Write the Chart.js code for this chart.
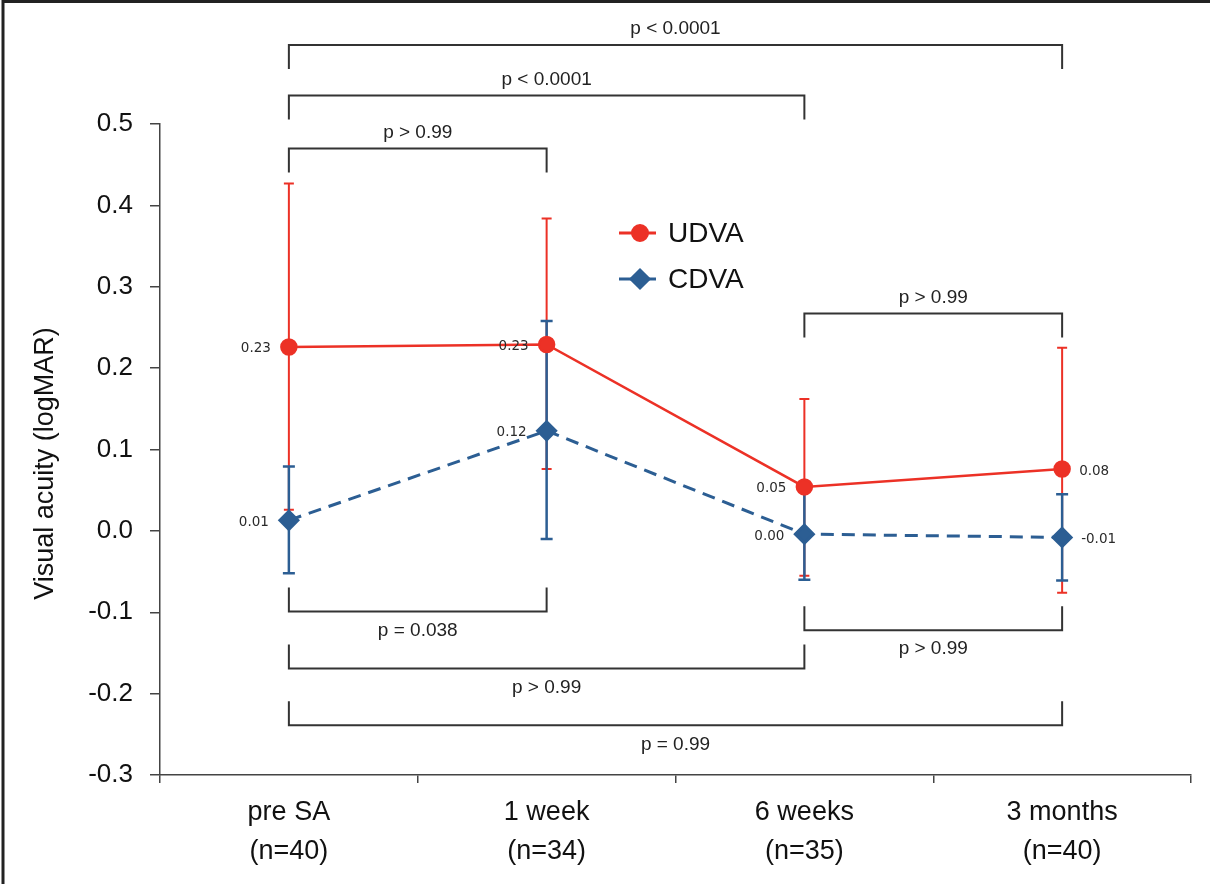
<!DOCTYPE html>
<html>
<head>
<meta charset="utf-8">
<title>Visual acuity</title>
<script src="https://cdn.jsdelivr.net/npm/chart.js@4.4.1/dist/chart.umd.min.js"></script>
<style>
  html, body { margin: 0; padding: 0; background: #fff; }
  #wrap { width: 1210px; height: 884px; }
</style>
</head>
<body>
<div id="wrap"><canvas id="grafico" width="1210" height="884"></canvas></div>
<script>
// categorias e valores
const categories = [['pre SA', '(n=40)'], ['1 week', '(n=34)'], ['6 weeks', '(n=35)'], ['3 months', '(n=40)']];
const yMin = -0.3;
const yMax = 0.5;
const yStep = 0.1;

const udvaMean = [0.226, 0.229, 0.054, 0.076];
const udvaUpper = [0.427, 0.384, 0.162, 0.225];
const udvaLower = [0.026, 0.076, -0.055, -0.076];

const cdvaMean = [0.013, 0.123, -0.004, -0.008];
const cdvaUpper = [0.079, 0.258, 0.052, 0.045];
const cdvaLower = [-0.052, -0.010, -0.060, -0.061];

// comparações (índices das categorias, nível da barra em logMAR)
const comparisons = [
  { from: 0, to: 3, level: 0.597, text: 'p < 0.0001', side: 'top' },
  { from: 0, to: 2, level: 0.535, text: 'p < 0.0001', side: 'top' },
  { from: 0, to: 1, level: 0.470, text: 'p > 0.99', side: 'top' },
  { from: 2, to: 3, level: 0.267, text: 'p > 0.99', side: 'top' },
  { from: 0, to: 1, level: -0.099, text: 'p = 0.038', side: 'bottom' },
  { from: 2, to: 3, level: -0.122, text: 'p > 0.99', side: 'bottom' },
  { from: 0, to: 2, level: -0.169, text: 'p > 0.99', side: 'bottom' },
  { from: 0, to: 3, level: -0.239, text: 'p = 0.99', side: 'bottom' }
];

const yTitle = 'Visual acuity (logMAR)';

const red = '#EC3126';
const blue = '#2C5E93';
const ink = '#222';

function fmt(v) {
  if (Math.abs(v) < 0.005) return '0.00';
  return v.toFixed(2);
}

const errorBars = {
  id: 'errorBars',
  beforeDatasetsDraw(chart) {
    const ctx = chart.ctx;
    const sx = chart.scales.x;
    const sy = chart.scales.y;
    const sets = [
      { up: udvaUpper, lo: udvaLower, color: red, w: 2, cap: 5 },
      { up: cdvaUpper, lo: cdvaLower, color: blue, w: 2.5, cap: 6 }
    ];
    ctx.save();
    sets.forEach(s => {
      ctx.strokeStyle = s.color;
      ctx.lineWidth = s.w;
      for (let i = 0; i < categories.length; i++) {
        const x = sx.getPixelForValue(i);
        const y1 = sy.getPixelForValue(s.up[i]);
        const y2 = sy.getPixelForValue(s.lo[i]);
        ctx.beginPath();
        ctx.moveTo(x, y1); ctx.lineTo(x, y2);
        ctx.moveTo(x - s.cap, y1); ctx.lineTo(x + s.cap, y1);
        ctx.moveTo(x - s.cap, y2); ctx.lineTo(x + s.cap, y2);
        ctx.stroke();
      }
    });
    ctx.restore();
  },
  afterDatasetsDraw(chart) {
    const ctx = chart.ctx;
    ctx.save();
    ctx.font = '13.5px "DejaVu Sans"';
    ctx.fillStyle = '#2a2a2a';
    ctx.textBaseline = 'middle';
    chart.data.datasets.forEach((ds, d) => {
      const meta = chart.getDatasetMeta(d);
      meta.data.forEach((pt, i) => {
        const last = i === categories.length - 1;
        ctx.textAlign = last ? 'left' : 'right';
        const off = d === 0 ? 18 : 20;
        ctx.fillText(fmt(ds.data[i]), last ? pt.x + off - 1 : pt.x - off, pt.y + 2);
      });
    });
    ctx.restore();
  }
};

const extras = {
  id: 'extras',
  beforeDraw(chart) {
    const ctx = chart.ctx;
    ctx.save();
    ctx.fillStyle = '#fff';
    ctx.fillRect(0, 0, chart.width, chart.height);
    ctx.restore();
  },
  afterDraw(chart) {
    const ctx = chart.ctx;
    const sx = chart.scales.x;
    const sy = chart.scales.y;
    ctx.save();

    // moldura cortada (topo e esquerda)
    ctx.strokeStyle = '#222';
    ctx.lineWidth = 3;
    ctx.beginPath();
    ctx.moveTo(3, chart.height); ctx.lineTo(3, 1.5); ctx.lineTo(chart.width, 1.5);
    ctx.stroke();

    // título do eixo y
    ctx.save();
    ctx.translate(46, (chart.chartArea.top + chart.chartArea.bottom) / 2 + 14);
    ctx.rotate(-Math.PI / 2);
    ctx.font = '27px "Liberation Sans"';
    ctx.fillStyle = '#111';
    ctx.textAlign = 'center';
    ctx.textBaseline = 'middle';
    ctx.fillText(yTitle, 0, 0);
    ctx.restore();

    // colchetes de comparação
    ctx.strokeStyle = '#333';
    ctx.lineWidth = 2;
    ctx.fillStyle = ink;
    ctx.font = '19px "Liberation Sans"';
    ctx.textAlign = 'center';
    ctx.textBaseline = 'middle';
    comparisons.forEach(c => {
      const x1 = sx.getPixelForValue(c.from);
      const x2 = sx.getPixelForValue(c.to);
      const y = sy.getPixelForValue(c.level);
      const dir = c.side === 'top' ? 1 : -1;
      ctx.beginPath();
      ctx.moveTo(x1, y + dir * 24); ctx.lineTo(x1, y); ctx.lineTo(x2, y); ctx.lineTo(x2, y + dir * 24);
      ctx.stroke();
      ctx.fillText(c.text, (x1 + x2) / 2, c.side === 'top' ? y - 16 : y + 19);
    });

    // legenda
    ctx.font = '28px "Liberation Sans"';
    ctx.textAlign = 'left';
    chart.data.datasets.forEach((ds, d) => {
      const ly = 233 + d * 46;
      ctx.strokeStyle = ds.borderColor;
      ctx.lineWidth = 3;
      ctx.setLineDash([]);
      ctx.beginPath();
      ctx.moveTo(619, ly); ctx.lineTo(656, ly);
      ctx.stroke();
      ctx.fillStyle = ds.pointBackgroundColor;
      ctx.strokeStyle = ds.pointBackgroundColor;
      Chart.helpers.drawPoint(ctx, { pointStyle: ds.pointStyle, radius: ds.pointRadius, borderWidth: 1 }, 640, ly);
      ctx.fillStyle = '#111';
      ctx.fillText(ds.label, 668, ly + 1);
    });
    ctx.restore();
  }
};

const ctx = document.getElementById('grafico').getContext('2d');
new Chart(ctx, {
  type: 'line',
  data: {
    labels: categories,
    datasets: [
      {
        label: 'UDVA',
        data: udvaMean,
        borderColor: red,
        backgroundColor: red,
        pointBackgroundColor: red,
        pointBorderColor: red,
        borderWidth: 2.5,
        pointStyle: 'circle',
        pointRadius: 7.5,
        fill: false,
        tension: 0
      },
      {
        label: 'CDVA',
        data: cdvaMean,
        borderColor: blue,
        backgroundColor: blue,
        pointBackgroundColor: blue,
        pointBorderColor: blue,
        borderWidth: 3,
        borderDash: [13, 8],
        pointStyle: 'rectRot',
        pointRadius: 9,
        fill: false,
        tension: 0
      }
    ]
  },
  options: {
    responsive: false,
    animation: false,
    layout: { padding: { top: 124, right: 19, bottom: 0, left: 0 } },
    plugins: {
      legend: { display: false },
      tooltip: { enabled: false }
    },
    scales: {
      x: {
        offset: true,
        grid: { offset: true, drawOnChartArea: false, tickLength: 8, color: '#444', lineWidth: 1.5 },
        border: { color: '#444', width: 1.5 },
        ticks: {
          color: '#111',
          padding: 10,
          maxRotation: 0,
          font: { family: 'Liberation Sans', size: 27, lineHeight: 1.45 }
        },
        afterFit(scale) { scale.height = 109; }
      },
      y: {
        min: yMin,
        max: yMax,
        grid: { drawOnChartArea: false, tickLength: 10, color: '#444', lineWidth: 1.5 },
        border: { color: '#444', width: 1.5 },
        ticks: {
          stepSize: yStep,
          color: '#111',
          padding: 17,
          font: { family: 'Liberation Sans', size: 26 },
          callback: v => (Math.abs(v) < 1e-9 ? 0 : v).toFixed(1)
        },
        title: { display: false },
        afterFit(scale) { scale.width = 160; }
      }
    }
  },
  plugins: [errorBars, extras]
});
</script>
</body>
</html>
